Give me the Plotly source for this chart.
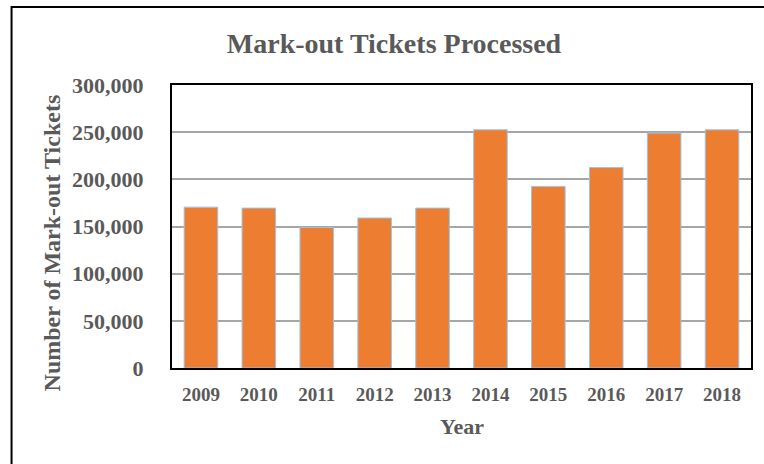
import plotly.graph_objects as go

# Mark-out tickets processed per year
years = ["2009", "2010", "2011", "2012", "2013", "2014", "2015", "2016", "2017", "2018"]
tickets = [170500, 169500, 149000, 159000, 169500, 252500, 192500, 212500, 249000, 252500]
y_ticks = [0, 50000, 100000, 150000, 200000, 250000, 300000]

W, H = 764, 464
L, R, T, B = 172, 11, 85, 96
pw = W - L - R
ph = H - T - B

def px_x(x):
    return (x - L) / pw

def px_y(y):
    return (H - B - y) / ph

FONT = "Liberation Serif, Times New Roman, serif"
GREY = "#595959"

fig = go.Figure()
fig.add_trace(go.Bar(
    x=years,
    y=tickets,
    marker=dict(color="#ED7D31", line=dict(color="#9DC3E6", width=1)),
    hoverinfo="x+y",
))

fig.update_layout(
    width=W,
    height=H,
    margin=dict(l=L, r=R, t=T, b=B),
    paper_bgcolor="white",
    plot_bgcolor="white",
    bargap=0.42,
    showlegend=False,
    title=dict(
        text="<b>Mark-out Tickets Processed</b>",
        x=394 / W,
        xanchor="center",
        y=1 - 43 / H,
        yanchor="middle",
        font=dict(family=FONT, size=28, color=GREY),
    ),
    xaxis=dict(
        type="category",
        showline=True,
        mirror=True,
        linecolor="black",
        linewidth=2,
        ticks="outside",
        ticklen=8,
        tickcolor="rgba(0,0,0,0)",
        tickfont=dict(family=FONT, size=19, color=GREY, weight="bold"),
        showgrid=False,
    ),
    yaxis=dict(
        range=[0, 300000],
        tickvals=y_ticks,
        tickformat=",",
        showline=True,
        mirror=True,
        linecolor="black",
        linewidth=2,
        ticks="outside",
        ticklen=22,
        tickcolor="rgba(0,0,0,0)",
        tickfont=dict(family=FONT, size=22, color=GREY, weight="bold"),
        showgrid=True,
        gridcolor="#A6A6A6",
        gridwidth=1.5,
        zeroline=False,
    ),
    annotations=[
        dict(
            text="<b>Number of Mark-out Tickets</b>",
            xref="paper", yref="paper",
            x=px_x(52), y=px_y(243),
            xanchor="center", yanchor="middle",
            textangle=-90, showarrow=False,
            font=dict(family=FONT, size=24, color=GREY),
        ),
        dict(
            text="<b>Year</b>",
            xref="paper", yref="paper",
            x=px_x(463), y=px_y(426),
            xanchor="center", yanchor="middle",
            showarrow=False,
            font=dict(family=FONT, size=22, color=GREY),
        ),
    ],
    shapes=[
        dict(
            type="rect", xref="paper", yref="paper",
            x0=px_x(11), x1=px_x(W + 20),
            y0=px_y(H + 20), y1=px_y(7),
            line=dict(color="black", width=2),
            fillcolor="rgba(0,0,0,0)",
            layer="below",
        ),
    ],
)

fig.write_html("out.html")
